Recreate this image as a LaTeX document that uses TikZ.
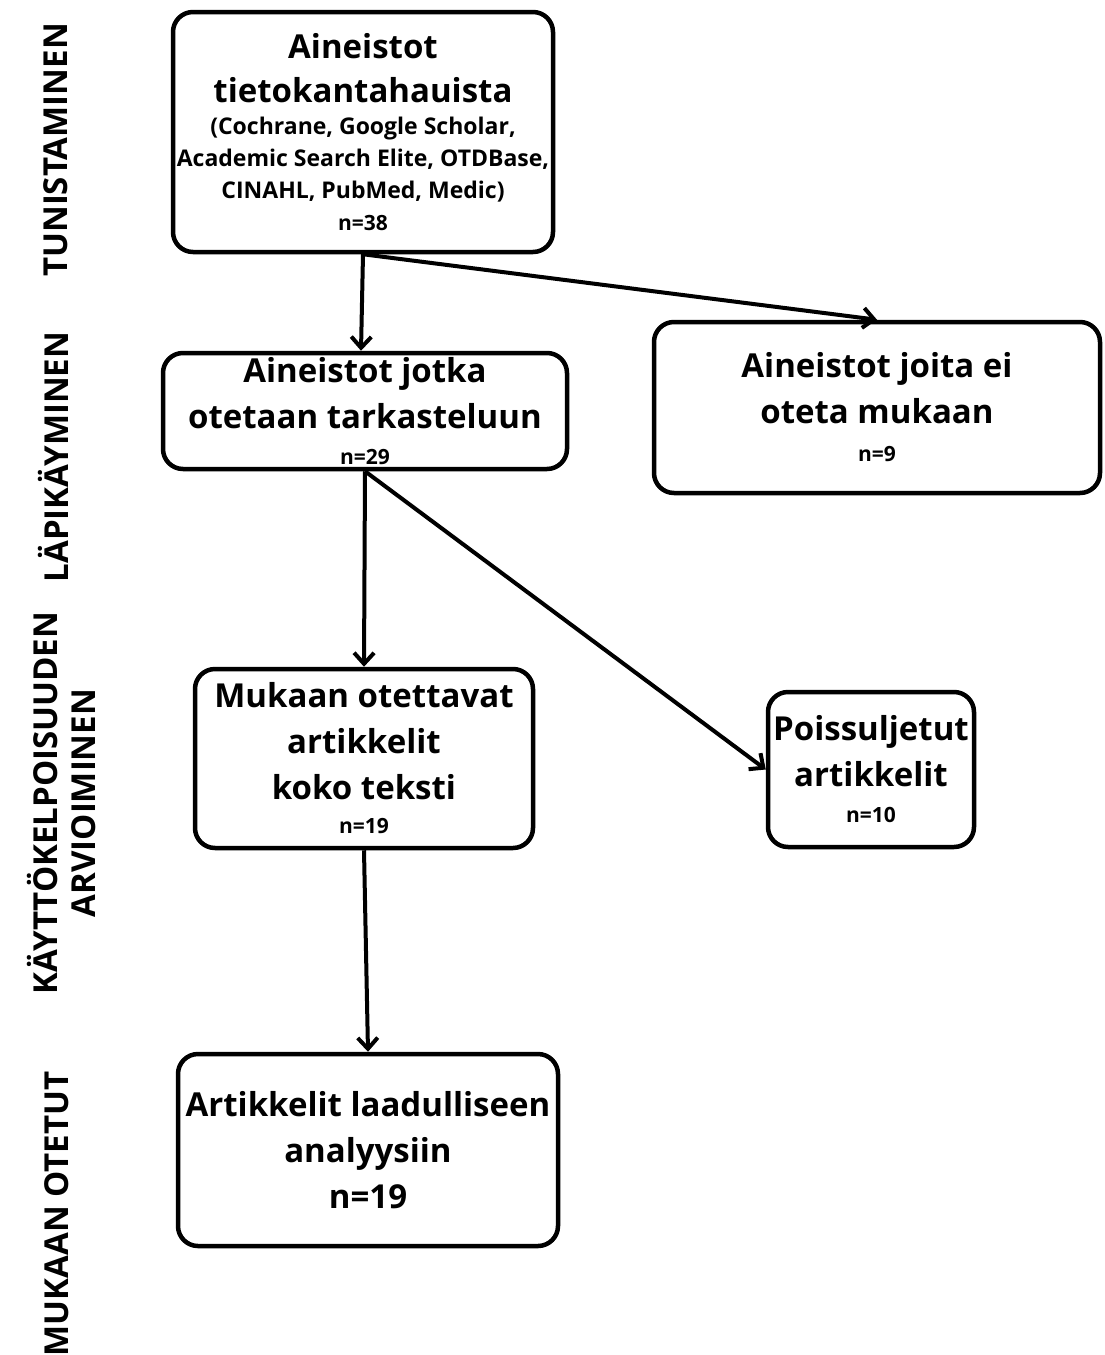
\documentclass[tikz,border=0pt]{standalone}
\usepackage{fontspec}
\setmainfont{Open Sans}
\usetikzlibrary{arrows.meta}
\newcommand{\bigtxt}{\fontsize{33}{46}\selectfont}
\newcommand{\smalltxt}{\fontsize{23}{26}\selectfont}
\newcommand{\ntxt}{\fontsize{21}{24}\selectfont}
\begin{document}
\begin{tikzpicture}[x=1pt,y=-1pt,
    box/.style={draw, line width=4.5pt, rounded corners=20pt, align=center,
      inner sep=0pt, font=\bfseries\bigtxt},
    side/.style={rotate=90, align=center, font=\bfseries\fontsize{33}{38}\selectfont},
    arr/.style={line width=4pt, -{Straight Barb[length=11pt,width=20pt]}}]
      \useasboundingbox (0,0) rectangle (1104,1355);
      % vaiheet
      \node[side, anchor=base] (l1) at (67,150) {TUNISTAMINEN};
      \node[side, anchor=base] (l2) at (68,457) {LÄPIKÄYMINEN};
      \node[side] (l3) at (62,803) {KÄYTTÖKELPOISUUDEN\\ARVIOIMINEN};
      \node[side, anchor=base] (l4) at (68,1214) {MUKAAN OTETUT};
      % laatikot
      \node[box, minimum width=380pt, minimum height=240pt] (b1) at (363,132)
        {Aineistot\\[-2pt]tietokantahauista\\[-14pt]
         \smalltxt (Cochrane, Google Scholar,\\[-14pt]
         \smalltxt Academic Search Elite, OTDBase,\\[-14pt]
         \smalltxt CINAHL, PubMed, Medic)\\[-14pt]
         \ntxt n=38};
      \node[box, minimum width=404pt, minimum height=116pt] (b2) at (365,411)
        {Aineistot jotka\\otetaan tarkasteluun\\[-10pt]\ntxt n=29};
      \node[box, minimum width=446pt, minimum height=171pt] (b3) at (877,407.5)
        {Aineistot joita ei\\oteta mukaan\\[-8pt]\ntxt n=9};
      \node[box, minimum width=338pt, minimum height=179pt] (b4) at (364,758.5)
        {Mukaan otettavat\\artikkelit\\koko teksti\\[-12pt]\ntxt n=19};
      \node[box, minimum width=206pt, minimum height=155pt] (b5) at (871,769.5)
        {Poissuljetut\\artikkelit\\[-10pt]\ntxt n=10};
      \node[box, minimum width=380pt, minimum height=192pt] (b6) at (368,1150)
        {Artikkelit laadulliseen\\analyysiin\\n=19};
      % nuolet
      \draw [arr] (b1.south) -- ([xshift=-4pt]b2.north);
      \draw [arr] (b1.south) -- (b3.north);
      \draw [arr] (b2.south) -- (b4.north);
      \draw [arr] (b2.south) -- (b5.west);
      \draw [arr] (b4.south) -- (b6.north);
\end{tikzpicture}
\end{document}
